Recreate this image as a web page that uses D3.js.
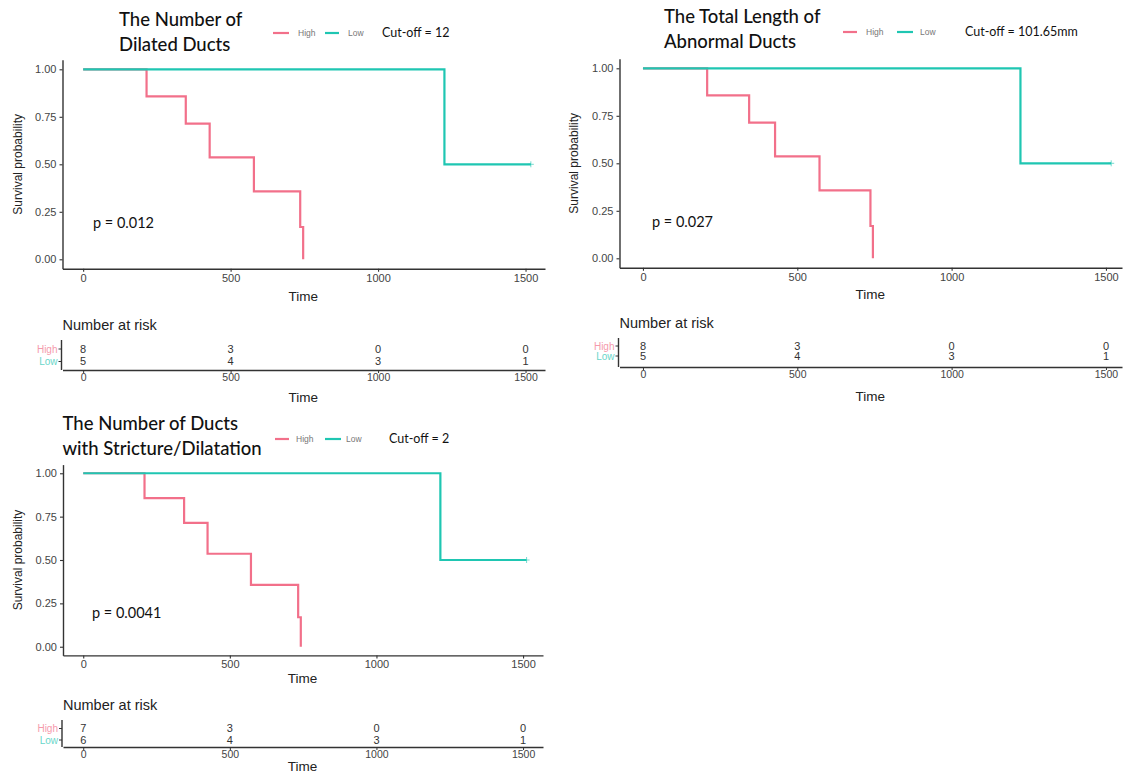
<!DOCTYPE html>
<html>
<head>
<meta charset="utf-8">
<script src="https://cdn.jsdelivr.net/npm/d3@7"></script>
<style>
  html, body { margin: 0; padding: 0; background: #fff; }
  svg { display: block; }
</style>
</head>
<body>
<svg id="chart" width="1125" height="774"></svg>
<script>
// ---------------- DATA ----------------
const groups = ["High", "Low"];
const timeTicks = [0, 500, 1000, 1500];
const survTicks = [0, 0.25, 0.5, 0.75, 1];

// Panel 1: The Number of Dilated Ducts
const p1Title = ["The Number of", "Dilated Ducts"];
const p1Cutoff = "Cut-off = 12";
const p1PValue = "p = 0.012";
const p1HighTime = [0, 215, 348, 429, 579, 736, 746];
const p1HighSurv = [1, 0.857, 0.714, 0.536, 0.357, 0.17, 0];
const p1LowTime = [0, 1225, 1518];
const p1LowSurv = [1, 0.5, 0.5];
const p1RiskHigh = [8, 3, 0, 0];
const p1RiskLow = [5, 4, 3, 1];

// Panel 2: The Total Length of Abnormal Ducts
const p2Title = ["The Total Length of", "Abnormal Ducts"];
const p2Cutoff = "Cut-off = 101.65mm";
const p2PValue = "p = 0.027";
const p2HighTime = [0, 208, 344, 428, 572, 737, 745];
const p2HighSurv = [1, 0.857, 0.714, 0.536, 0.357, 0.17, 0];
const p2LowTime = [0, 1223, 1517];
const p2LowSurv = [1, 0.5, 0.5];
const p2RiskHigh = [8, 3, 0, 0];
const p2RiskLow = [5, 4, 3, 1];

// Panel 3: The Number of Ducts with Stricture/Dilatation
const p3Title = ["The Number of Ducts", "with Stricture/Dilatation"];
const p3Cutoff = "Cut-off = 2";
const p3PValue = "p = 0.0041";
const p3HighTime = [0, 209, 344, 424, 572, 733, 742];
const p3HighSurv = [1, 0.857, 0.714, 0.536, 0.357, 0.17, 0];
const p3LowTime = [0, 1218, 1512];
const p3LowSurv = [1, 0.5, 0.5];
const p3RiskHigh = [7, 3, 0, 0];
const p3RiskLow = [6, 4, 3, 1];

// ---------------- STYLE / LAYOUT ----------------
const colHigh = "#F2708A";
const colLow = "#1FC6B2";
const axisCol = "#333";
const titleFont = "Lato, 'Open Sans', sans-serif";
const plotFont = "'Liberation Sans', Arial, sans-serif";

const panels = [
  {
    title: p1Title, cutoff: p1Cutoff, pval: p1PValue,
    high: {t: p1HighTime, s: p1HighSurv}, low: {t: p1LowTime, s: p1LowSurv},
    riskHigh: p1RiskHigh, riskLow: p1RiskLow,
    xDom: [-70, 1566], xRange: [62.5, 545], yRange: [268.8, 59.8],
    titleX: 119, titleY: [26, 51],
    legY: 33, legHigh: [273, 289, 298], legLow: [325, 339, 348], cutX: 382,
    pX: 93, pY: 223, ylabX: 18, timeY: 296,
    risk: {titleY: 325, rowHigh: 349, rowLow: 361.5, axisY: 370, top: 340, tickY: 382, timeY: 397}
  },
  {
    title: p2Title, cutoff: p2Cutoff, pval: p2PValue,
    high: {t: p2HighTime, s: p2HighSurv}, low: {t: p2LowTime, s: p2LowSurv},
    riskHigh: p2RiskHigh, riskLow: p2RiskLow,
    xDom: [-76, 1552], xRange: [619.5, 1122], yRange: [267.8, 58.8],
    titleX: 664, titleY: [23, 48],
    legY: 32, legHigh: [843, 857, 866], legLow: [897, 913, 920], cutX: 965,
    pX: 652, pY: 222, ylabX: 574, timeY: 294,
    risk: {titleY: 323, rowHigh: 346, rowLow: 356, axisY: 367, top: 338, tickY: 379, timeY: 396}
  },
  {
    title: p3Title, cutoff: p3Cutoff, pval: p3PValue,
    high: {t: p3HighTime, s: p3HighSurv}, low: {t: p3LowTime, s: p3LowSurv},
    riskHigh: p3RiskHigh, riskLow: p3RiskLow,
    xDom: [-69, 1568], xRange: [63, 543], yRange: [655.4, 464.6],
    titleX: 62.5, titleY: [430, 455],
    legY: 439, legHigh: [275, 289, 296], legLow: [325, 341, 346], cutX: 389,
    pX: 92, pY: 613, ylabX: 18, timeY: 678,
    risk: {titleY: 705, rowHigh: 728.5, rowLow: 740, axisY: 747, top: 720, tickY: 757, timeY: 766}
  }
];

const svg = d3.select("#chart");

function drawPanel(cfg) {
  const g = svg.append("g");
  const x = d3.scaleLinear().domain(cfg.xDom).range(cfg.xRange);
  const y = d3.scaleLinear().domain([-0.05, 1.05]).range(cfg.yRange);
  const yBottom = cfg.yRange[0];
  const xLeft = cfg.xRange[0];

  // title
  cfg.title.forEach((line, i) => {
    g.append("text").attr("x", cfg.titleX).attr("y", cfg.titleY[i])
      .attr("font-family", titleFont).attr("font-size", 18.5).attr("font-weight", 500)
      .attr("fill", "#111").text(line);
  });

  // legend
  [[cfg.legHigh, colHigh, groups[0]], [cfg.legLow, colLow, groups[1]]].forEach(([pos, c, lab]) => {
    g.append("line").attr("x1", pos[0]).attr("x2", pos[1]).attr("y1", cfg.legY).attr("y2", cfg.legY)
      .attr("stroke", c).attr("stroke-width", 2.2);
    g.append("text").attr("x", pos[2]).attr("y", cfg.legY).attr("dy", "0.35em")
      .attr("font-family", plotFont).attr("font-size", 8.5).attr("fill", "#777").text(lab);
  });
  g.append("text").attr("x", cfg.cutX).attr("y", cfg.legY).attr("dy", "0.35em")
    .attr("font-family", titleFont).attr("font-size", 12.5).attr("fill", "#111").text(cfg.cutoff);

  // axes
  const fmtT = d3.format("d");
  const xAxis = d3.axisBottom(x).tickValues(timeTicks).tickFormat(fmtT).tickSize(3).tickPadding(2).tickSizeOuter(0);
  const gx = g.append("g").attr("transform", `translate(0,${yBottom})`).call(xAxis);
  const yAxis = d3.axisLeft(y).tickValues(survTicks).tickFormat(d3.format(".2f")).tickSize(3).tickPadding(3).tickSizeOuter(0);
  const gy = g.append("g").attr("transform", `translate(${xLeft},0)`).call(yAxis);
  [gx, gy].forEach(a => {
    a.select(".domain").attr("stroke", axisCol).attr("stroke-width", 1.4);
    a.selectAll(".tick line").attr("stroke", axisCol).attr("stroke-width", 1.1);
    a.selectAll(".tick text").attr("font-family", plotFont).attr("font-size", 11).attr("fill", "#444");
  });

  // axis titles
  g.append("text").attr("x", (cfg.xRange[0] + cfg.xRange[1]) / 2 - 0.5).attr("y", cfg.timeY)
    .attr("dy", "0.35em").attr("text-anchor", "middle")
    .attr("font-family", plotFont).attr("font-size", 13.5).attr("fill", "#222").text("Time");
  g.append("text").attr("transform", `translate(${cfg.ylabX},${(cfg.yRange[0] + cfg.yRange[1]) / 2}) rotate(-90)`)
    .attr("dy", "0.35em").attr("text-anchor", "middle")
    .attr("font-family", plotFont).attr("font-size", 12).attr("fill", "#222").text("Survival probability");

  // curves (step)
  const line = d3.line().curve(d3.curveStepAfter).x(d => x(d[0])).y(d => y(d[1]));
  const highPts = d3.zip(cfg.high.t, cfg.high.s);
  const lowPts = d3.zip(cfg.low.t, cfg.low.s);
  g.append("path").attr("d", line(highPts)).attr("fill", "none")
    .attr("stroke", colHigh).attr("stroke-width", 2.2);
  g.append("path").attr("d", line(lowPts)).attr("fill", "none")
    .attr("stroke", colLow).attr("stroke-width", 2.2);
  // censor mark at end of Low curve
  const last = lowPts[lowPts.length - 1];
  g.append("path").attr("d", `M${x(last[0]) - 3},${y(last[1])}h6M${x(last[0])},${y(last[1]) - 3}v6`)
    .attr("stroke", colLow).attr("stroke-width", 1).attr("opacity", 0.6);

  // p-value
  g.append("text").attr("x", cfg.pX).attr("y", cfg.pY).attr("dy", "0.35em")
    .attr("font-family", titleFont).attr("font-size", 14.5).attr("fill", "#111").text(cfg.pval);

  // ---------- risk table ----------
  const r = cfg.risk;
  g.append("text").attr("x", xLeft).attr("y", r.titleY).attr("dy", "0.35em")
    .attr("font-family", plotFont).attr("font-size", 14.5).attr("fill", "#222").text("Number at risk");
  const xr = d3.axisBottom(x).tickValues(timeTicks).tickFormat(fmtT).tickSize(3).tickPadding(1).tickSizeOuter(0);
  const grx = g.append("g").attr("transform", `translate(0,${r.axisY})`).call(xr);
  grx.select(".domain").attr("stroke", axisCol).attr("stroke-width", 1.4);
  grx.selectAll(".tick line").attr("stroke", axisCol);
  grx.selectAll(".tick text").attr("font-family", plotFont).attr("font-size", 10.5).attr("fill", "#444");
  g.append("line").attr("x1", xLeft - 1).attr("x2", xLeft - 1).attr("y1", r.top).attr("y2", r.axisY)
    .attr("stroke", axisCol).attr("stroke-width", 1.4);
  [[r.rowHigh, colHigh, groups[0], cfg.riskHigh], [r.rowLow, colLow, groups[1], cfg.riskLow]].forEach(([yy, c, lab, vals]) => {
    g.append("line").attr("x1", xLeft - 4).attr("x2", xLeft - 1).attr("y1", yy).attr("y2", yy)
      .attr("stroke", axisCol).attr("stroke-width", 1);
    g.append("text").attr("x", xLeft - 5).attr("y", yy).attr("dy", "0.35em").attr("text-anchor", "end")
      .attr("font-family", plotFont).attr("font-size", 10).attr("fill", c).attr("opacity", 0.7).text(lab);
    g.selectAll(null).data(vals).enter().append("text")
      .attr("x", (d, i) => x(timeTicks[i])).attr("y", yy).attr("dy", "0.35em").attr("text-anchor", "middle")
      .attr("font-family", plotFont).attr("font-size", 11).attr("fill", "#333").text(d => d);
  });
  g.append("text").attr("x", (cfg.xRange[0] + cfg.xRange[1]) / 2 - 0.5).attr("y", r.timeY)
    .attr("dy", "0.35em").attr("text-anchor", "middle")
    .attr("font-family", plotFont).attr("font-size", 13.5).attr("fill", "#222").text("Time");
}

panels.forEach(drawPanel);
</script>
</body>
</html>
